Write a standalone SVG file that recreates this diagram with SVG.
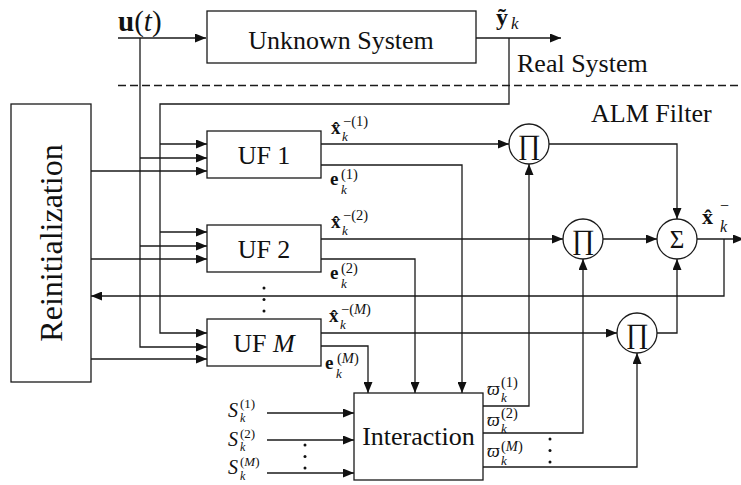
<svg xmlns="http://www.w3.org/2000/svg" width="741" height="485" viewBox="0 0 741 485">
<style>
.ln{fill:none;stroke:#1a1a1a;stroke-width:1.3}
.ar{marker-end:url(#a)}
.bx{fill:#fff;stroke:#1a1a1a;stroke-width:1.3}
text{font-family:"Liberation Serif","DejaVu Serif","Times New Roman",serif;fill:#111}
.op{text-anchor:middle}
.b{font-weight:bold}
.i{font-style:italic}
.dot{fill:#111}
</style>
<defs>
<marker id="a" markerWidth="11" markerHeight="9" refX="11" refY="4.5" orient="auto" markerUnits="userSpaceOnUse"><path d="M0,0L11,4.5L0,9z" fill="#111"/></marker>
</defs>
<rect width="741" height="485" fill="#fff"/>

<g id="connectors">
<path class="ln" stroke-dasharray="8,4" d="M118,85.5H741"/>
<path class="ln ar" d="M118,38H206"/>
<path class="ln ar" d="M476,38H561"/>
<path class="ln ar" d="M509,38V104H160V333H207"/>
<path class="ln ar" d="M160,144H207"/>
<path class="ln ar" d="M160,232H207"/>
<path class="ln ar" d="M140,38V347H207"/>
<path class="ln ar" d="M140,158H207"/>
<path class="ln ar" d="M140,246H207"/>
<path class="ln ar" d="M91,171H207"/>
<path class="ln ar" d="M91,259H207"/>
<path class="ln ar" d="M91,359H207"/>
<path class="ln ar" d="M697,239H744"/>
<path class="ln ar" d="M724,239V296H91"/>
<path class="ln ar" d="M321,144H509"/>
<path class="ln ar" d="M321,165H462V393"/>
<path class="ln ar" d="M321,239H563"/>
<path class="ln ar" d="M321,259H415V393"/>
<path class="ln ar" d="M321,333H617"/>
<path class="ln ar" d="M321,346H368V393"/>
<path class="ln ar" d="M549,144H677V219"/>
<path class="ln ar" d="M603,239H657"/>
<path class="ln ar" d="M657,333H677V259"/>
<path class="ln ar" d="M267,413H354"/>
<path class="ln ar" d="M267,440H354"/>
<path class="ln ar" d="M267,473H354"/>
<path class="ln ar" d="M483,406H529V164"/>
<path class="ln ar" d="M483,433H583V259"/>
<path class="ln ar" d="M483,467H637V353"/>
<circle class="dot" cx="264" cy="288" r="1.5"/><circle class="dot" cx="264" cy="299.5" r="1.5"/><circle class="dot" cx="264" cy="311" r="1.5"/>
<circle class="dot" cx="305" cy="445" r="1.5"/><circle class="dot" cx="305" cy="456.5" r="1.5"/><circle class="dot" cx="305" cy="468" r="1.5"/>
<circle class="dot" cx="550" cy="439" r="1.5"/><circle class="dot" cx="550" cy="450.5" r="1.5"/><circle class="dot" cx="550" cy="462" r="1.5"/>
</g>

<g id="labels">
<text x="118" y="31" font-size="29"><tspan font-weight="bold">u</tspan>(<tspan font-style="italic">t</tspan>)</text>
<text class="b" x="496" y="25" font-size="24">ỹ</text><text class="i" x="511" y="29" font-size="17">k</text>
<text x="517" y="72" font-size="26">Real System</text>
<text x="591" y="122" font-size="26">ALM Filter</text>

<text class="b" x="331" y="134" font-size="19">x̂</text><text class="i" x="342" y="141" font-size="13">k</text><text x="343" y="126" font-size="14.5">−(1)</text>
<text class="b" x="330" y="185" font-size="19">e</text><text class="i" x="341" y="194" font-size="13">k</text><text x="341" y="179" font-size="14.5">(1)</text>

<text class="b" x="331" y="228" font-size="19">x̂</text><text class="i" x="342" y="235" font-size="13">k</text><text x="343" y="220" font-size="14.5">−(2)</text>
<text class="b" x="330" y="279" font-size="19">e</text><text class="i" x="341" y="288" font-size="13">k</text><text x="341" y="273" font-size="14.5">(2)</text>

<text class="b" x="329" y="322" font-size="19">x̂</text><text class="i" x="340" y="329" font-size="13">k</text><text x="341" y="314" font-size="14.5">−(<tspan font-style="italic">M</tspan>)</text>
<text class="b" x="325" y="369" font-size="19">e</text><text class="i" x="336" y="378" font-size="13">k</text><text x="337" y="363" font-size="14.5">(<tspan font-style="italic">M</tspan>)</text>

<text class="b" x="702" y="224" font-size="22">x̂</text><text class="i" x="720" y="232" font-size="16">k</text><text x="720" y="211" font-size="16">−</text>

<text class="i" x="228" y="417" font-size="20">S</text><text class="i" x="240" y="422" font-size="12">k</text><text x="240" y="408" font-size="13">(1)</text>
<text class="i" x="228" y="446" font-size="20">S</text><text class="i" x="240" y="451" font-size="12">k</text><text x="240" y="437.5" font-size="13">(2)</text>
<text class="i" x="228" y="474" font-size="20">S</text><text class="i" x="240" y="480" font-size="12">k</text><text x="240" y="466" font-size="13">(<tspan font-style="italic">M</tspan>)</text>

<text class="i" x="487" y="395" font-size="18">ϖ</text><text class="i" x="501" y="402" font-size="13">k</text><text x="501" y="387" font-size="14.5">(1)</text>
<text class="i" x="487" y="426" font-size="18">ϖ</text><text class="i" x="501" y="433" font-size="13">k</text><text x="501" y="418" font-size="14.5">(2)</text>
<text class="i" x="487" y="457" font-size="18">ϖ</text><text class="i" x="501" y="465" font-size="13">k</text><text x="501" y="451" font-size="14.5">(<tspan font-style="italic">M</tspan>)</text>
</g>

<g id="unknown-system">
<rect class="bx" x="207" y="11" width="269" height="52"/>
<text x="341" y="49" font-size="26" text-anchor="middle">Unknown System</text>
</g>

<g id="reinitialization">
<rect class="bx" x="11" y="104" width="80" height="278"/>
<text font-size="32" text-anchor="middle" transform="translate(62,243) rotate(-90)">Reinitialization</text>
</g>

<g id="uf1">
<rect class="bx" x="207" y="131" width="114" height="47"/>
<text x="264" y="163.5" font-size="26" text-anchor="middle">UF 1</text>
</g>
<g id="uf2">
<rect class="bx" x="207" y="225" width="114" height="47"/>
<text x="264" y="257.5" font-size="26" text-anchor="middle">UF 2</text>
</g>
<g id="ufm">
<rect class="bx" x="207" y="319" width="114" height="47"/>
<text x="264" y="351.5" font-size="26" text-anchor="middle">UF <tspan font-style="italic">M</tspan></text>
</g>

<g id="pi1">
<circle class="bx" cx="529" cy="144" r="20"/>
<text class="op" x="529" y="154" font-size="28">∏</text>
</g>
<g id="pi2">
<circle class="bx" cx="583" cy="239" r="20"/>
<text class="op" x="583" y="249" font-size="28">∏</text>
</g>
<g id="pim">
<circle class="bx" cx="637" cy="333" r="20"/>
<text class="op" x="637" y="343" font-size="28">∏</text>
</g>
<g id="sigma">
<circle class="bx" cx="677" cy="239" r="20"/>
<text class="op" x="677" y="248" font-size="25">Σ</text>
</g>

<g id="interaction">
<rect class="bx" x="354" y="393" width="129" height="87"/>
<text x="418.5" y="445" font-size="26" text-anchor="middle">Interaction</text>
</g>
</svg>
